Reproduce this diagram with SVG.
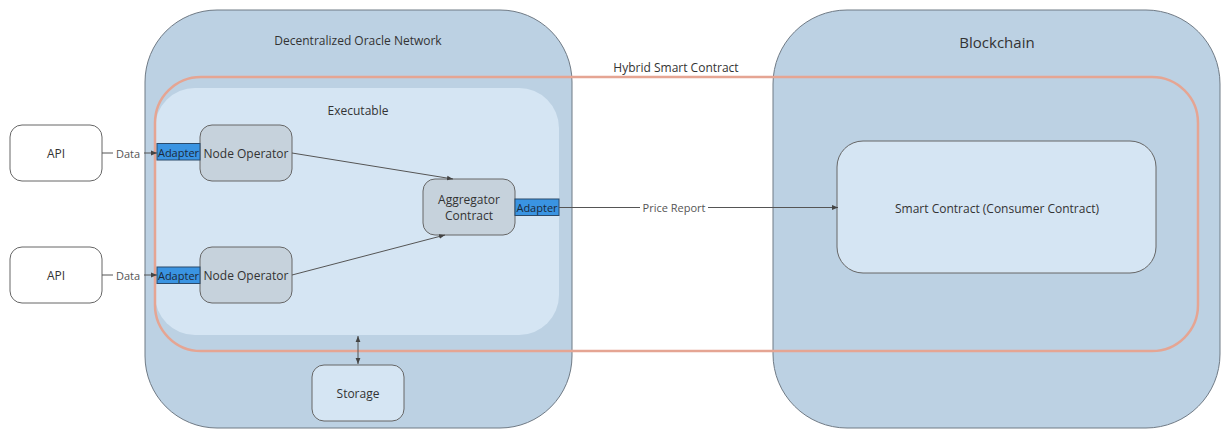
<svg xmlns="http://www.w3.org/2000/svg" width="1221" height="432" viewBox="0 0 1221 432">
<defs>
<marker id="arr" viewBox="0 0 10 10" refX="10" refY="5" markerWidth="6" markerHeight="6" orient="auto-start-reverse" markerUnits="userSpaceOnUse">
<path d="M0,1 L10,5 L0,9 z" fill="#444"/>
</marker>
<style>
text{font-family:"Open Sans","Noto Sans","Liberation Sans",sans-serif;fill:#333;text-anchor:middle;dominant-baseline:central}
.t12{font-size:12px}
.t11{font-size:11px}
.cont{fill:#bcd1e3;stroke:#6f7a85;stroke-width:1}
.exec{fill:#d5e5f3;stroke:none}
.box{fill:#ffffff;stroke:#666;stroke-width:1}
.node{fill:#c6d2dc;stroke:#666;stroke-width:1}
.light{fill:#d5e5f3;stroke:#666;stroke-width:1}
.adp{fill:#3a94e2;stroke:#2b4a6a;stroke-width:1}
.conn{stroke:#555;stroke-width:1;fill:none}
.hybrid{fill:none;stroke:#e5a593;stroke-width:2.5}
</style>
</defs>
<rect width="1221" height="432" fill="#ffffff"/>
<g id="don">
<rect class="cont" x="145" y="10" width="427" height="418" rx="72"/>
<text class="t12" x="358" y="40">Decentralized Oracle Network</text>
</g>
<g id="blockchain">
<rect class="cont" x="773" y="10" width="447" height="418" rx="74"/>
<text x="997" y="42" style="font-size:15px">Blockchain</text>
</g>
<g id="executable">
<rect class="exec" x="155" y="88" width="404" height="247" rx="40"/>
<text class="t12" x="358" y="110">Executable</text>
</g>
<g id="hybrid">
<rect class="hybrid" x="155" y="77" width="1043" height="274" rx="46"/>
<rect x="608" y="60" width="136" height="15" fill="#ffffff"/>
<text class="t12" x="676" y="67">Hybrid Smart Contract</text>
</g>
<g id="api1">
<rect class="box" x="10" y="125" width="92" height="56" rx="12"/>
<text class="t12" x="56" y="153">API</text>
</g>
<g id="api2">
<rect class="box" x="10" y="247" width="92" height="56" rx="12"/>
<text class="t12" x="56" y="275">API</text>
</g>
<g id="node1">
<rect class="node" x="200" y="125" width="92" height="56" rx="12"/>
<text class="t12" x="246" y="153">Node Operator</text>
</g>
<g id="adapter1">
<rect class="adp" x="157" y="143.5" width="43" height="16.5"/>
<text class="t11" x="178.5" y="152" style="fill:#1b2a3a">Adapter</text>
</g>
<g id="node2">
<rect class="node" x="200" y="247" width="92" height="56" rx="12"/>
<text class="t12" x="246" y="275">Node Operator</text>
</g>
<g id="adapter2">
<rect class="adp" x="157" y="267" width="43" height="16.5"/>
<text class="t11" x="178.5" y="275.5" style="fill:#1b2a3a">Adapter</text>
</g>
<g id="aggregator">
<rect class="node" x="423" y="179" width="92" height="56" rx="12"/>
<text class="t12" x="469" y="199">Aggregator</text>
<text class="t12" x="469" y="215">Contract</text>
</g>
<g id="adapter3">
<rect class="adp" x="515" y="199" width="44" height="16.5"/>
<text class="t11" x="537" y="207.5" style="fill:#1b2a3a">Adapter</text>
</g>
<g id="smartcontract">
<rect class="light" x="837" y="141" width="319" height="132" rx="26"/>
<text class="t12" x="997" y="208">Smart Contract (Consumer Contract)</text>
</g>
<g id="storage">
<rect class="light" x="312" y="365" width="92" height="56" rx="12"/>
<text class="t12" x="358" y="393">Storage</text>
</g>
<g id="connectors">
<path class="conn" d="M102,153 H113 M144,153 H157" marker-end="url(#arr)"/>
<text class="t11" x="128" y="153" style="fill:#555">Data</text>
<path class="conn" d="M102,275 H113 M144,275 H157" marker-end="url(#arr)"/>
<text class="t11" x="128" y="275" style="fill:#555">Data</text>
<path class="conn" d="M292,153 L453,179" marker-end="url(#arr)"/>
<path class="conn" d="M292,275 L445,235" marker-end="url(#arr)"/>
<path class="conn" d="M559,207.5 H640 M708,207.5 H838" marker-end="url(#arr)"/>
<text class="t11" x="674" y="207.5" style="fill:#555">Price Report</text>
<path class="conn" d="M358,336 V364" marker-start="url(#arr)" marker-end="url(#arr)"/>
</g>
</svg>
